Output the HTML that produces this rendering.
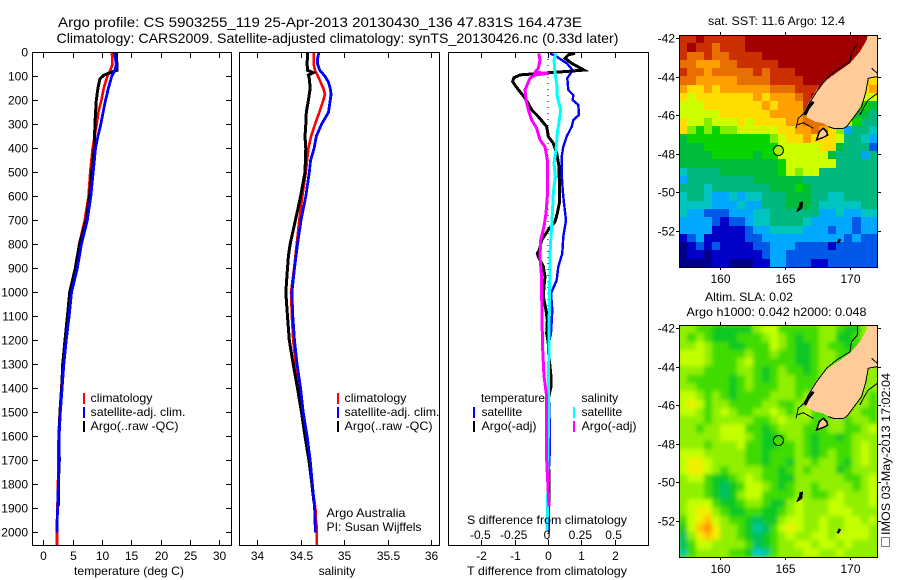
<!DOCTYPE html>
<html lang="en">
<head>
<meta charset="utf-8">
<title>Argo profile</title>
<style>
html,body{margin:0;padding:0;background:#fff;}
svg{display:block;}
text{font-family:"Liberation Sans",sans-serif;font-size:12px;fill:#000;}
.title{font-size:14px;}
.frame{fill:none;stroke:#000;stroke-width:1;shape-rendering:crispEdges;}
</style>
</head>
<body>
<svg id="chart" xmlns="http://www.w3.org/2000/svg" width="900" height="580" viewBox="0 0 900 580">
  <rect x="0" y="0" width="900" height="580" fill="#fff"/>
  <defs>
    <clipPath id="clip-p1"><rect x="33" y="53" width="198" height="492"/></clipPath>
    <clipPath id="clip-p2"><rect x="240" y="53" width="199" height="492"/></clipPath>
    <clipPath id="clip-p3"><rect x="449" y="53" width="199" height="492"/></clipPath>
    <clipPath id="clip-m1"><rect x="679" y="35" width="199" height="233"/></clipPath>
    <clipPath id="clip-m2"><rect x="679" y="325" width="199" height="233"/></clipPath>
    <filter id="soft" x="-5%" y="-5%" width="110%" height="110%"><feGaussianBlur stdDeviation="2.2"/></filter>
  </defs>

  <text class="title" x="58" y="27" textLength="524" lengthAdjust="spacingAndGlyphs">Argo profile: CS 5903255_119 25-Apr-2013 20130430_136 47.831S 164.473E</text>
  <text class="title" x="56.5" y="43" textLength="562" lengthAdjust="spacingAndGlyphs">Climatology: CARS2009. Satellite-adjusted climatology: synTS_20130426.nc (0.33d later)</text>

  <g id="series-layer"></g>
  <g id="axes-layer">
    <rect class="frame" x="32.5" y="52.5" width="199" height="493"/>
    <rect class="frame" x="239.5" y="52.5" width="200" height="493"/>
    <rect class="frame" x="448.5" y="52.5" width="200" height="493"/>
  </g>

  <text x="129" y="575" text-anchor="middle" textLength="110" lengthAdjust="spacingAndGlyphs">temperature (deg C)</text>
  <text x="337" y="575" text-anchor="middle">salinity</text>
  <text x="547" y="575" text-anchor="middle" textLength="160" lengthAdjust="spacingAndGlyphs">T difference from climatology</text>
  <text x="547" y="524" text-anchor="middle" textLength="160" lengthAdjust="spacingAndGlyphs">S difference from climatology</text>

  <g>
    <rect x="83" y="393" width="2" height="11" fill="#f00"/>
    <rect x="83" y="407" width="2" height="11" fill="#00f"/>
    <rect x="83" y="421" width="2" height="11" fill="#000"/>
    <text x="90.5" y="402" textLength="62" lengthAdjust="spacingAndGlyphs">climatology</text>
    <text x="90.5" y="416" textLength="95" lengthAdjust="spacingAndGlyphs">satellite-adj. clim.</text>
    <text x="90.5" y="430" textLength="88" lengthAdjust="spacingAndGlyphs">Argo(..raw -QC)</text>
  </g>
  <g>
    <rect x="337" y="393" width="2" height="11" fill="#f00"/>
    <rect x="337" y="407" width="2" height="11" fill="#00f"/>
    <rect x="337" y="421" width="2" height="11" fill="#000"/>
    <text x="344.5" y="402" textLength="62" lengthAdjust="spacingAndGlyphs">climatology</text>
    <text x="344.5" y="416" textLength="95" lengthAdjust="spacingAndGlyphs">satellite-adj. clim.</text>
    <text x="344.5" y="430" textLength="88" lengthAdjust="spacingAndGlyphs">Argo(..raw -QC)</text>
  </g>
  <text x="326.5" y="517" textLength="79" lengthAdjust="spacingAndGlyphs">Argo Australia</text>
  <text x="326.5" y="531" textLength="95" lengthAdjust="spacingAndGlyphs">PI: Susan Wijffels</text>
  <g>
    <text x="481" y="402" textLength="64" lengthAdjust="spacingAndGlyphs">temperature</text>
    <rect x="473" y="407" width="2" height="11" fill="#00f"/>
    <rect x="473" y="421" width="2" height="11" fill="#000"/>
    <text x="481.5" y="416">satellite</text>
    <text x="481.5" y="430" textLength="55" lengthAdjust="spacingAndGlyphs">Argo(-adj)</text>
    <text x="581.5" y="402">salinity</text>
    <rect x="573" y="407" width="2" height="11" fill="#0ff"/>
    <rect x="573" y="421" width="2" height="11" fill="#f0f"/>
    <text x="581.5" y="416">satellite</text>
    <text x="581.5" y="430" textLength="55" lengthAdjust="spacingAndGlyphs">Argo(-adj)</text>
  </g>

  <g id="map1-cells" clip-path="url(#clip-m1)"></g>
  <g id="map1-over" clip-path="url(#clip-m1)"></g>
  <rect id="map2-bg" x="679" y="325" width="199" height="233" fill="#90e800"/>
  <g clip-path="url(#clip-m2)"><g id="map2-cells" filter="url(#soft)"></g></g>
  <g id="map2-over" clip-path="url(#clip-m2)"></g>
  <g id="map-axes">
    <rect class="frame" x="679.5" y="35.5" width="198" height="232"/>
    <rect class="frame" x="679.5" y="325.5" width="198" height="232"/>
  </g>

  <text x="776.5" y="25" text-anchor="middle" textLength="137" lengthAdjust="spacingAndGlyphs">sat. SST: 11.6 Argo: 12.4</text>
  <text x="749" y="301" text-anchor="middle" textLength="88" lengthAdjust="spacingAndGlyphs">Altim. SLA: 0.02</text>
  <text x="776.5" y="316" text-anchor="middle" textLength="180" lengthAdjust="spacingAndGlyphs">Argo h1000: 0.042 h2000: 0.048</text>
  <rect x="881.5" y="537.5" width="8" height="9" fill="none" stroke="#000" stroke-width="1" stroke-dasharray="1 1" shape-rendering="crispEdges"/>
  <text transform="translate(890,535) rotate(-90)" textLength="162" lengthAdjust="spacingAndGlyphs">IMOS 03-May-2013 17:02:04</text>
</svg>

<script>
// ---- axis ticks ----
const depthTicks = [0,100,200,300,400,500,600,700,800,900,1000,1100,1200,1300,1400,1500,1600,1700,1800,1900,2000];
const temperatureTicks = [0,5,10,15,20,25,30];
const salinityTicks = ['34','34.5','35','35.5','36'];
const tDiffTicks = ['-2','-1','0','1','2'];
const sDiffTicks = ['-0.5','-0.25','0','0.25','0.5'];
const lonTicks = [160,165,170];
const latTicks = [-42,-44,-46,-48,-50,-52];

// ---- temperature profiles ----
const climTempDepth = [0,50,75,100,150,200,250,300,400,500,600,700,800,900,1000,1100,1200,1300,1400,1500,1600,1700,1800,1900,2000,2053];
const climTemp = [11.7,11.8,11.4,10.9,10.3,9.9,9.4,9.1,8.4,8.0,7.7,7.05,6.1,5.6,4.7,4.26,3.7,3.3,3.07,2.8,2.6,2.56,2.5,2.4,2.33,2.33];
const satTempDepth = [0,50,75,100,150,200,250,300,350,400,500,600,700,800,900,1000,1100,1200,1300,1400,1500,1600,1700,1800,1900,1950,2000];
const satTemp = [12.1,12.45,12.2,11.65,11.1,10.6,10.2,9.8,9.3,8.9,8.5,8.1,7.5,6.5,5.8,4.8,4.4,3.9,3.5,3.2,2.9,2.7,2.67,2.56,2.45,2.35,2.33];
const argoTempDepth = [0,75,85,95,110,150,200,300,400,500,600,700,800,900,1000,1100,1200,1300,1400,1500,1600,1700,1800,1890];
const argoTemp = [12.5,12.55,11.4,10.35,9.66,9.3,9.04,8.8,8.7,8.25,7.9,7.3,6.15,5.45,4.5,4.1,3.7,3.3,3.13,2.85,2.68,2.73,2.56,2.62];

// ---- salinity profiles ----
const climSalDepth = [0,50,75,100,150,175,200,250,300,350,400,500,600,700,800,900,1000,1100,1200,1300,1400,1500,1600,1700,1800,1900,1950,1975,2053];
const climSal = [34.65,34.65,34.665,34.70,34.76,34.78,34.76,34.715,34.665,34.62,34.59,34.56,34.52,34.485,34.455,34.425,34.39,34.40,34.415,34.445,34.485,34.52,34.56,34.605,34.63,34.67,34.675,34.685,34.685];
const satSalDepth = [0,25,50,75,100,125,150,175,200,250,275,300,350,400,450,500,600,700,800,900,1000,1100,1200,1300,1400,1500,1600,1700,1800,1900,2000];
const satSal = [34.71,34.695,34.695,34.72,34.78,34.82,34.84,34.85,34.84,34.82,34.78,34.74,34.68,34.655,34.615,34.60,34.56,34.505,34.465,34.43,34.40,34.41,34.43,34.46,34.50,34.53,34.575,34.61,34.635,34.66,34.67];
const argoSalDepth = [0,50,75,85,95,110,150,200,250,300,350,400,500,600,700,800,850,900,1000,1100,1200,1300,1400,1500,1600,1700,1800,1880];
const argoSal = [34.58,34.575,34.58,34.645,34.59,34.60,34.61,34.59,34.565,34.56,34.55,34.56,34.55,34.50,34.44,34.38,34.36,34.35,34.33,34.35,34.37,34.415,34.465,34.51,34.55,34.595,34.63,34.655];

// ---- differences from climatology ----
const tSatDepth = [4,18,46,74,108,157,178,199,219,261,282,310,351,393,435,504,574,629,699,768,838,893,949,1004,1074,1171,1213,1407,1588,1643,1754,1810,1990,2000];
const tSat = [0.06,0.26,0.56,0.74,0.58,0.61,0.76,0.74,0.91,0.93,0.76,0.71,0.56,0.46,0.41,0.41,0.44,0.48,0.54,0.46,0.43,0.31,0.26,0.09,0.13,0.09,0.02,0.02,0.06,0.06,0.02,0.03,0.03,0.03];
const tArgoDepth = [4,11,25,46,74,83,94,106,122,143,164,185,213,240,268,310,351,379,421,476,532,587,629,671,706,740,782,824,838,858,893,935,976,1018,1074,1115,1171,1213,1240,1351,1393,1449,1588,1700,1890];
const tArgo = [0.81,0.61,0.51,0.71,1.08,0.26,-0.84,-1.02,-1.06,-0.96,-0.84,-0.72,-0.59,-0.49,-0.29,-0.04,0.01,0.16,0.26,0.33,0.34,0.34,0.34,0.28,0.21,0.01,-0.19,-0.26,-0.32,-0.27,-0.14,-0.09,-0.12,-0.14,-0.06,-0.02,-0.04,0.01,0.01,0.09,0.09,0,0,0.02,0.03];
const sSatDepth = [4,32,88,129,185,240,282,338,407,463,518,588,643,726,810,921,1018,1074,1310,1588,1865,1990];
const sSat = [0.06,0.045,0.0525,0.065,0.07,0.095,0.085,0.07,0.06,0.045,0.055,0.04,0.035,0.0275,0.0175,0.015,0.01,0.01,0.005,0.0025,-0.0025,-0.0075];
const sArgoDepth = [4,32,67,83,88,94,108,157,199,240,282,317,365,393,449,532,601,671,726,782,851,921,1018,1115,1240,1351,1435,1588,1699,1838,1893];
const sArgo = [-0.07,-0.06,-0.0725,-0.0975,0.0025,-0.0975,-0.135,-0.1725,-0.165,-0.1475,-0.1225,-0.085,-0.06,-0.0225,-0.005,-0.0025,-0.005,-0.015,-0.03,-0.055,-0.06,-0.05,-0.0475,-0.045,-0.04,-0.03,-0.01,-0.01,-0.01,0.0025,0.0075];

// ---- maps: colour level read per cell ----
const sstColors = ['#000088','#0000c8','#0058e8','#00a8ff','#00c4c0','#00b880','#00bc3c','#08d400','#80ee00','#ccff00','#ffdd00','#ffa000','#e87000','#cc3000','#a00000'];
const slaColors = ['#000088','#0000c8','#0058e8','#00c8d0','#00c8a0','#00c060','#10c820','#40dc00','#90f000','#c4ff00','#f0f000','#ffc000','#ff9000','#cc3000','#a00000'];
const sstLevels = [
[13,13,14,13,13,13,13,13,14,14,14,14,14,14,14,14,14,14,14,14,14,14,14,14],
[13,14,13,13,12,13,13,13,14,14,14,14,14,14,14,14,14,14,14,14,14,14,14,14],
[13,12,12,13,12,12,13,13,13,13,14,14,14,14,14,14,14,14,14,14,14,14,14,14],
[12,12,11,11,11,12,12,13,13,13,13,13,14,14,14,14,14,14,14,14,14,14,14,14],
[13,12,12,11,12,12,12,12,12,13,12,13,13,13,14,14,14,14,14,14,14,14,14,14],
[12,12,11,11,11,11,11,12,12,12,12,13,13,13,13,14,14,14,14,14,14,14,11,10],
[11,10,10,11,10,11,11,11,11,11,11,12,12,12,13,13,13,14,14,14,14,14,10,11],
[10,9,10,10,10,10,10,10,10,11,10,11,11,11,12,13,14,14,14,14,14,14,9,9],
[9,9,9,10,10,10,10,10,10,10,11,10,11,11,11,13,13,14,14,14,14,8,7,6],
[9,9,9,9,9,10,10,10,10,10,10,11,11,11,11,12,13,14,14,14,14,6,6,5],
[10,9,9,8,9,9,9,10,9,10,10,10,10,11,11,12,12,12,12,14,9,7,5,5],
[10,8,7,8,7,8,8,9,9,9,9,9,10,10,11,11,12,11,10,8,3,5,5,4],
[6,7,7,7,7,7,7,7,7,7,7,8,9,10,10,11,10,10,10,9,5,5,4,3],
[6,6,6,7,7,7,7,7,7,7,7,7,9,9,9,9,9,10,10,6,5,5,5,2],
[6,6,6,6,7,7,7,7,7,6,7,7,9,9,9,9,9,9,6,5,5,5,3,5],
[6,6,6,6,6,6,6,6,6,6,6,6,7,9,9,9,9,9,9,5,5,5,5,5],
[4,5,5,5,5,6,6,6,6,6,6,6,7,9,8,9,9,5,5,5,5,5,5,5],
[3,5,5,5,5,5,5,5,5,6,6,6,6,6,6,5,5,5,5,5,5,5,5,5],
[5,5,5,4,5,5,5,5,5,5,5,6,6,6,7,6,5,5,5,5,5,5,5,5],
[4,5,5,4,3,3,4,3,4,4,5,5,5,6,6,6,5,5,4,4,5,5,5,5],
[4,4,4,4,3,3,3,4,3,3,5,5,5,6,6,6,5,4,4,4,4,4,5,5],
[4,3,3,2,2,2,3,3,3,4,4,5,5,5,5,5,5,3,3,4,3,3,4,4],
[3,3,3,3,2,1,2,2,3,4,4,5,5,5,5,4,3,3,3,3,3,2,3,3],
[3,3,3,3,1,1,1,1,2,3,3,4,4,4,4,3,3,3,2,3,3,2,3,3],
[1,2,3,1,1,1,1,1,2,2,3,3,3,3,3,3,3,3,3,3,2,3,2,2],
[0,1,2,1,2,1,1,1,1,2,2,3,3,3,2,2,2,2,1,2,2,2,2,2],
[0,1,1,0,1,1,1,1,1,1,2,3,3,2,2,2,2,2,2,2,2,2,2,2],
[0,0,0,0,1,1,0,0,0,1,1,3,3,2,2,2,1,1,2,2,2,2,2,2]
];
const slaLevels = [
[8,8,7,7,6,6,6,6,6,8,9,9,7,7,7,7,7,8,8,7,6,6,8,8],
[8,7,8,7,6,6,6,7,7,7,8,9,8,7,6,7,7,8,8,6,6,7,8,8],
[8,8,9,8,7,7,6,6,7,7,7,9,8,7,6,6,7,8,7,7,6,7,8,8],
[9,9,9,8,7,7,7,7,8,7,7,8,7,7,6,6,7,8,8,7,7,7,8,8],
[9,9,9,8,7,7,7,8,9,7,7,7,7,7,6,6,7,8,8,7,7,8,8,8],
[8,8,8,7,7,7,7,8,8,7,6,7,8,7,7,6,7,8,8,8,8,8,8,8],
[8,7,7,7,7,7,6,7,8,7,6,7,8,8,7,7,7,8,10,8,8,8,8,8],
[8,8,7,7,7,7,6,7,8,7,7,7,8,8,7,7,7,8,9,8,8,8,8,8],
[9,9,8,7,8,7,6,7,7,7,7,8,8,8,7,8,7,7,7,8,8,8,8,7],
[9,10,9,7,8,8,7,7,7,7,8,8,7,7,8,8,7,7,7,8,8,8,8,7],
[9,9,8,7,8,9,8,7,7,8,8,9,8,7,8,9,7,7,7,8,8,8,7,7],
[8,8,8,7,8,8,8,8,8,7,7,8,9,8,8,8,7,7,8,8,7,8,8,7],
[8,8,7,8,8,9,9,9,7,7,6,7,8,8,8,7,7,7,8,8,7,7,8,9],
[8,8,8,8,8,9,9,9,8,7,6,6,7,8,8,7,6,7,7,6,7,8,8,8],
[8,8,8,7,8,8,8,9,7,7,6,6,7,7,8,7,6,7,7,7,7,8,9,8],
[9,9,9,8,8,8,8,8,7,7,6,7,7,7,8,7,6,7,8,7,7,8,9,8],
[9,10,10,9,8,8,8,8,7,7,6,7,7,6,8,8,7,8,8,7,6,8,9,8],
[9,10,10,9,8,7,8,8,8,8,7,7,6,7,8,7,8,8,8,6,7,8,8,8],
[8,9,9,7,6,6,7,8,9,8,7,7,6,6,8,8,8,8,8,8,7,7,8,9],
[8,8,8,7,6,5,6,7,9,9,8,7,6,7,8,8,7,8,8,8,8,7,8,9],
[8,8,8,7,6,5,6,8,9,9,7,7,7,7,8,8,7,7,8,9,8,8,8,9],
[8,9,9,9,7,6,6,7,8,8,7,6,6,8,9,8,8,8,9,9,8,8,8,9],
[8,9,10,10,8,7,6,6,7,7,6,6,7,8,9,8,8,8,9,9,9,8,8,8],
[7,9,10,11,9,8,7,7,6,5,6,6,8,9,9,8,8,9,8,8,9,9,8,9],
[6,9,11,12,10,8,8,7,6,4,5,7,9,10,9,8,8,9,8,8,9,9,9,8],
[5,8,10,11,10,8,8,7,6,5,6,7,8,9,8,8,9,9,8,9,9,9,9,8],
[5,7,9,9,8,8,8,8,7,5,6,7,8,8,9,9,8,9,9,8,9,8,8,8],
[4,7,8,8,8,8,7,7,6,3,4,7,8,8,8,9,9,8,8,9,8,8,8,8]
];

// ---- geography in degrees ----
const landLon = [171.38,172.2,172.2,171.31,171.2,170.87,170.49,170.03,169.46,168.69,168.31,167.92,167.28,166.64,166.44,166.77,167.41,168.18,168.69,169.97,170.74,171.26];
const landLat = [-41.7,-41.7,-44.0,-44.18,-44.78,-45.39,-45.9,-46.33,-46.68,-46.68,-46.59,-46.42,-46.33,-46.11,-45.82,-45.39,-44.69,-44.18,-43.92,-43.31,-42.71,-42.1];
const coastWestLon = [170.54,170.54,170.10,169.97,168.95,168.18,167.41,166.77,166.44,166.0,165.82];
const coastWestLat = [-41.86,-42.36,-42.71,-43.23,-43.66,-44.09,-44.78,-45.47,-45.9,-46.16,-46.68];
const coastSouthLon = [165.92,166.38,167.15];
const coastSouthLat = [-46.51,-46.39,-46.68];
const coastEastLon = [172.08,171.38,171.2,170.87,170.49,170.1,169.72,169.46,168.69,168.31];
const coastEastLat = [-44,-44.09,-44.78,-45.56,-45.9,-46.25,-46.59,-46.68,-46.68,-46.59];
const coastOuterLon = [172.08,171.38,171.0,170.74];
const coastOuterLat = [-44.87,-45.21,-45.64,-45.99];
const coastNorthLon = [171.64,172.08];
const coastNorthLat = [-43.57,-43.83];
const fjordLon = [166.51,166.8,167.15];
const fjordLat = [-45.99,-45.6,-45.3];
const stewartLon = [167.41,167.62,167.92,168.18,168.26,167.92];
const stewartLat = [-47.28,-46.85,-46.68,-46.85,-47.03,-47.15];
const aucklandLon = [166.08,166.13,166.33,166.26,165.87];
const aucklandLat = [-50.74,-50.53,-50.51,-50.83,-51];
const campbellLon = [169.0,169.13,169.25,169.1];
const campbellLat = [-52.6,-52.42,-52.45,-52.62];
const argoLon = 164.473;
const argoLat = -47.831;

// ---- scales ----
const SVGNS = 'http://www.w3.org/2000/svg';
function yDepth(d){ return 52.3 + 0.24 * d; }
function xTemp(t){ return 43.3 + 5.867 * t; }
function xSal(s){ return 257 + 87.2 * (s - 34); }
function xDT(t){ return 548 + 33.33 * t; }
function xDS(s){ return 548 + 133.3 * s; }
function xLon(lon){ return 720.3 + 13 * (lon - 160); }
function yLat(lat, top){ return top + 2.7 + 19.3 * (-42 - lat); }

const seriesLayer = document.getElementById('series-layer');
const axesLayer = document.getElementById('axes-layer');
const mapAxes = document.getElementById('map-axes');

function drawSeries(clipId, xs, depths, xScale, color, width, name){
  const pts = xs.map(function(v,i){ return xScale(v).toFixed(1) + ',' + yDepth(depths[i]).toFixed(1); }).join(' ');
  const el = document.createElementNS(SVGNS,'polyline');
  el.setAttribute('points', pts);
  el.setAttribute('fill','none');
  el.setAttribute('stroke',color);
  el.setAttribute('stroke-width',width);
  el.setAttribute('shape-rendering','crispEdges');
  el.setAttribute('clip-path','url(#' + clipId + ')');
  
  
  seriesLayer.appendChild(el);
}
function tick(parent, x1, y1, x2, y2, name){
  const el = document.createElementNS(SVGNS,'line');
  el.setAttribute('x1',x1); el.setAttribute('y1',y1);
  el.setAttribute('x2',x2); el.setAttribute('y2',y2);
  el.setAttribute('stroke','#000');
  el.setAttribute('shape-rendering','crispEdges');
  
  
  parent.appendChild(el);
}
function label(parent, x, y, str, anchor, name){
  const el = document.createElementNS(SVGNS,'text');
  el.setAttribute('x',x); el.setAttribute('y',y);
  el.setAttribute('text-anchor',anchor);
  el.textContent = str;
  
  
  parent.appendChild(el);
}

// profiles
drawSeries('clip-p1', climTemp, climTempDepth, xTemp, '#f00', 2.6, 'temperature-climatology-line');
drawSeries('clip-p1', argoTemp, argoTempDepth, xTemp, '#000', 3, 'temperature-argo-line');
drawSeries('clip-p1', satTemp, satTempDepth, xTemp, '#00f', 2.8, 'temperature-satellite-line');
drawSeries('clip-p2', climSal, climSalDepth, xSal, '#f00', 2.6, 'salinity-climatology-line');
drawSeries('clip-p2', argoSal, argoSalDepth, xSal, '#000', 3, 'salinity-argo-line');
drawSeries('clip-p2', satSal, satSalDepth, xSal, '#00f', 2.8, 'salinity-satellite-line');

const zeroLine = document.createElementNS(SVGNS,'line');
zeroLine.setAttribute('x1', xDT(0)); zeroLine.setAttribute('x2', xDT(0));
zeroLine.setAttribute('y1', 53); zeroLine.setAttribute('y2', 545);
zeroLine.setAttribute('stroke','#000');
zeroLine.setAttribute('stroke-dasharray','1 5');
zeroLine.setAttribute('shape-rendering','crispEdges');


seriesLayer.appendChild(zeroLine);

drawSeries('clip-p3', tSat, tSatDepth, xDT, '#00f', 2.4, 't-difference-satellite-line');
drawSeries('clip-p3', tArgo, tArgoDepth, xDT, '#000', 3, 't-difference-argo-line');
drawSeries('clip-p3', sSat, sSatDepth, xDS, '#0ff', 3, 's-difference-satellite-line');
drawSeries('clip-p3', sArgo, sArgoDepth, xDS, '#f0f', 3, 's-difference-argo-line');

// profile axes
depthTicks.forEach(function(d){
  const y = Math.round(yDepth(d)) + 0.5;
  tick(axesLayer, 33, y, 38, y, 'depth-tick-left');
  tick(axesLayer, 226, y, 231, y, 'depth-tick-right');
  label(axesLayer, 28, y + 4, String(d), 'end', 'depth-tick-label');
});
temperatureTicks.forEach(function(t){
  const x = Math.round(xTemp(t)) + 0.5;
  tick(axesLayer, x, 53, x, 58, 'temperature-tick-top');
  tick(axesLayer, x, 540, x, 545, 'temperature-tick-bottom');
  label(axesLayer, x, 560, String(t), 'middle', 'temperature-tick-label');
});
salinityTicks.forEach(function(s){
  const x = Math.round(xSal(parseFloat(s))) + 0.5;
  tick(axesLayer, x, 53, x, 58, 'salinity-tick-top');
  tick(axesLayer, x, 540, x, 545, 'salinity-tick-bottom');
  label(axesLayer, x, 560, s, 'middle', 'salinity-tick-label');
});
tDiffTicks.forEach(function(t){
  const x = Math.round(xDT(parseFloat(t))) + 0.5;
  tick(axesLayer, x, 53, x, 58, 't-difference-tick-top');
  tick(axesLayer, x, 540, x, 545, 't-difference-tick-bottom');
  label(axesLayer, x, 560, t, 'middle', 't-difference-tick-label');
});
sDiffTicks.forEach(function(s){
  label(axesLayer, xDS(parseFloat(s)) - 1, 539, s, 'middle', 's-difference-tick-label');
});

// maps
function drawCells(parent, rows, palette, left, top, name){
  const nr = rows.length;
  const nc = rows[0].length;
  rows.forEach(function(row, r){
    row.forEach(function(v, c){
      const x0 = Math.round(left + 198 * c / nc);
      const x1 = Math.round(left + 198 * (c + 1) / nc);
      const y0 = Math.round(top + 232 * r / nr);
      const y1 = Math.round(top + 232 * (r + 1) / nr);
      const el = document.createElementNS(SVGNS,'rect');
      el.setAttribute('x', x0); el.setAttribute('y', y0);
      el.setAttribute('width', x1 - x0); el.setAttribute('height', y1 - y0);
      el.setAttribute('fill', palette[Math.max(0, Math.min(palette.length - 1, v))]);
      el.setAttribute('shape-rendering','crispEdges');
      
      
      parent.appendChild(el);
    });
  });
}
function geoPoints(lons, lats, top){
  return lons.map(function(lon,i){ return xLon(lon).toFixed(1) + ',' + yLat(lats[i], top).toFixed(1); }).join(' ');
}
function geoShape(parent, tag, lons, lats, top, fill, stroke, width, name){
  const el = document.createElementNS(SVGNS, tag);
  el.setAttribute('points', geoPoints(lons, lats, top));
  el.setAttribute('fill', fill);
  el.setAttribute('stroke', stroke);
  el.setAttribute('stroke-width', width);
  el.setAttribute('shape-rendering','crispEdges');
  
  
  parent.appendChild(el);
}
function drawGeography(parent, top, markerFill){
  geoShape(parent, 'polygon', landLon, landLat, top, '#ffcc99', 'none', 0, 'land');
  geoShape(parent, 'polyline', coastWestLon, coastWestLat, top, 'none', '#000', 1, 'coastline-west');
  geoShape(parent, 'polyline', coastSouthLon, coastSouthLat, top, 'none', '#000', 1, 'coastline-south');
  geoShape(parent, 'polyline', coastEastLon, coastEastLat, top, 'none', '#000', 1, 'coastline-east');
  geoShape(parent, 'polyline', coastOuterLon, coastOuterLat, top, 'none', '#000', 1, 'coastline-outer');
  geoShape(parent, 'polyline', coastNorthLon, coastNorthLat, top, 'none', '#000', 1, 'coastline-north');
  geoShape(parent, 'polyline', fjordLon, fjordLat, top, 'none', '#000', 3, 'fjordland-coast');
  geoShape(parent, 'polygon', stewartLon, stewartLat, top, '#ffcc99', '#000', 1.5, 'stewart-island');
  geoShape(parent, 'polygon', aucklandLon, aucklandLat, top, '#000', '#000', 1, 'auckland-islands');
  geoShape(parent, 'polygon', campbellLon, campbellLat, top, '#000', '#000', 1, 'campbell-island');
  const marker = document.createElementNS(SVGNS,'circle');
  marker.setAttribute('cx', xLon(argoLon));
  marker.setAttribute('cy', yLat(argoLat, top));
  marker.setAttribute('r', 5);
  marker.setAttribute('fill', markerFill);
  marker.setAttribute('stroke', '#000');
  
  
  parent.appendChild(marker);
}
drawCells(document.getElementById('map1-cells'), sstLevels, sstColors, 679, 35, 'sst-cell');
drawCells(document.getElementById('map2-cells'), slaLevels, slaColors, 679, 325, 'sla-cell');
drawGeography(document.getElementById('map1-over'), 35.3, '#a0f000');
drawGeography(document.getElementById('map2-over'), 325.3, '#40dc00');

[35.3, 325.3].forEach(function(top){
  const bottom = Math.round(top + 232);
  const ft = Math.round(top);
  lonTicks.forEach(function(lon){
    const x = Math.round(xLon(lon)) + 0.5;
    tick(mapAxes, x, ft - 3, x, ft, 'longitude-tick');
    tick(mapAxes, x, bottom, x, bottom + 3, 'longitude-tick');
    label(mapAxes, x, bottom + 16, String(lon), 'middle', 'longitude-tick-label');
  });
  latTicks.forEach(function(lat){
    const y = Math.round(yLat(lat, top)) + 0.5;
    tick(mapAxes, 676, y, 679, y, 'latitude-tick');
    tick(mapAxes, 878, y, 881, y, 'latitude-tick');
    label(mapAxes, 675, y + 4, String(lat), 'end', 'latitude-tick-label');
  });
});
</script>
</body>
</html>
